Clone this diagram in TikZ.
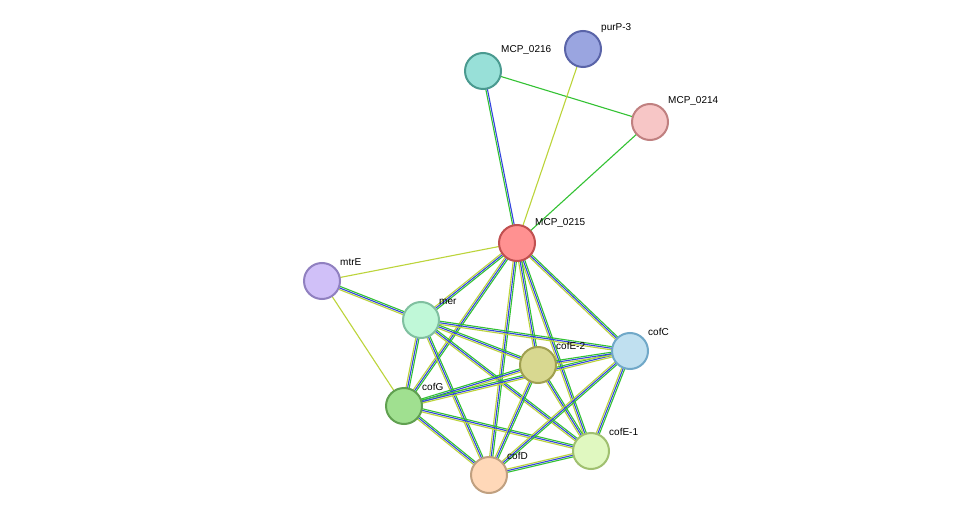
\documentclass[tikz,border=0pt]{standalone}
\usepackage{fontspec}
\setmainfont{Liberation Sans}
\usetikzlibrary{calc,backgrounds}
\definecolor{eg}{HTML}{33C233}
\definecolor{eb}{HTML}{3344E0}
\definecolor{ey}{HTML}{BCD43A}
\pgfdeclarelayer{bgzero}
\pgfsetlayers{bgzero,background,main}
\newcommand\myln[4]{\draw[#3,line width=1.1pt] ($(#1)!#4!90:(#2)$) -- ($(#2)!#4!-90:(#1)$);}
\newcommand\eone[3]{\myln{#1}{#2}{#3}{0pt}}
\newcommand\etwo[4]{\myln{#1}{#2}{#3}{-0.8pt}\myln{#1}{#2}{#4}{0.8pt}}
\newcommand\ethree[2]{\myln{#1}{#2}{ey}{-1.6pt}\myln{#1}{#2}{eb}{0pt}\myln{#1}{#2}{eg}{1.6pt}}
\begin{document}
\begin{tikzpicture}[x=1pt,y=-1pt,
  prot/.style={circle,minimum size=36pt,inner sep=0pt,line width=2pt},
  lab/.style={font=\fontsize{10pt}{11pt}\selectfont,anchor=south west,inner sep=1pt}]
\begin{pgfonlayer}{bgzero}
\fill[white] (0,0) rectangle (976,521);
\end{pgfonlayer}
\useasboundingbox (0,0) rectangle (976,521);
\node[prot,fill={rgb,255:red,154;green,165;blue,224},draw={rgb,255:red,90;green,100;blue,168}] (purP) at (583,49) {};
\node[prot,fill={rgb,255:red,152;green,224;blue,216},draw={rgb,255:red,74;green,154;blue,144}] (m216) at (483,71) {};
\node[prot,fill={rgb,255:red,247;green,198;blue,198},draw={rgb,255:red,192;green,128;blue,128}] (m214) at (650,122) {};
\node[prot,fill={rgb,255:red,255;green,145;blue,145},draw={rgb,255:red,192;green,80;blue,80}] (m215) at (517,243) {};
\node[prot,fill={rgb,255:red,208;green,192;blue,248},draw={rgb,255:red,144;green,128;blue,192}] (mtrE) at (322,281) {};
\node[prot,fill={rgb,255:red,192;green,248;blue,216},draw={rgb,255:red,128;green,192;blue,160}] (mer) at (421,320) {};
\node[prot,fill={rgb,255:red,192;green,224;blue,240},draw={rgb,255:red,112;green,168;blue,200}] (cofC) at (630,351) {};
\node[prot,fill={rgb,255:red,216;green,216;blue,144},draw={rgb,255:red,160;green,160;blue,80}] (cofE2) at (538,365) {};
\node[prot,fill={rgb,255:red,160;green,224;blue,144},draw={rgb,255:red,96;green,160;blue,80}] (cofG) at (404,406) {};
\node[prot,fill={rgb,255:red,224;green,248;blue,192},draw={rgb,255:red,160;green,192;blue,112}] (cofE1) at (591,451) {};
\node[prot,fill={rgb,255:red,255;green,216;blue,184},draw={rgb,255:red,192;green,160;blue,128}] (cofD) at (489,475) {};
\node[lab] (lpurP) at (600,34) {purP-3};
\node[lab] (l216) at (500,56) {MCP\_0216};
\node[lab] (l214) at (667,107) {MCP\_0214};
\node[lab] (l215) at (534,229) {MCP\_0215};
\node[lab] (lmtrE) at (339,267) {mtrE};
\node[lab] (lmer) at (438,306) {mer};
\node[lab] (lcofC) at (647,337) {cofC};
\node[lab] (lcofE2) at (555,351) {cofE-2};
\node[lab] (lcofG) at (421,392) {cofG};
\node[lab] (lcofE1) at (608,437) {cofE-1};
\node[lab] (lcofD) at (506,461) {cofD};
\begin{pgfonlayer}{background}
\eone{m216}{m214}{eg}
\etwo{m216}{m215}{eg}{eb}
\eone{purP}{m215}{ey}
\eone{m214}{m215}{eg}
\eone{m215}{mtrE}{ey}
\eone{mtrE}{cofG}{ey}
\ethree{mtrE}{mer}
\ethree{m215}{mer}
\ethree{m215}{cofG}
\ethree{m215}{cofD}
\ethree{m215}{cofE1}
\ethree{m215}{cofE2}
\ethree{m215}{cofC}
\ethree{mer}{cofG}
\ethree{mer}{cofD}
\ethree{mer}{cofE1}
\ethree{mer}{cofE2}
\ethree{mer}{cofC}
\ethree{cofG}{cofE2}
\ethree{cofG}{cofC}
\ethree{cofG}{cofE1}
\ethree{cofG}{cofD}
\ethree{cofE2}{cofC}
\ethree{cofE2}{cofE1}
\ethree{cofE2}{cofD}
\ethree{cofC}{cofE1}
\ethree{cofC}{cofD}
\ethree{cofE1}{cofD}
\end{pgfonlayer}
\end{tikzpicture}
\end{document}
